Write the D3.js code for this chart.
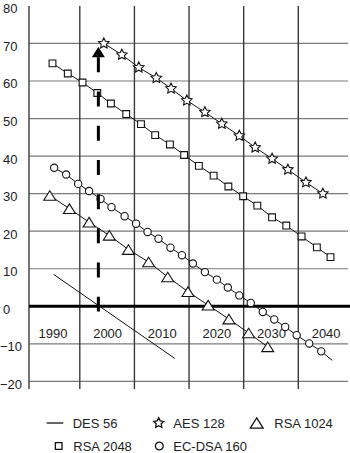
<!DOCTYPE html>
<html>
<head>
<meta charset="utf-8">
<script src="https://cdnjs.cloudflare.com/ajax/libs/d3/7.8.5/d3.min.js"></script>
<style>
  body { margin: 0; background: #fff; }
  svg text { font-family: "Liberation Sans", Arial, Helvetica, sans-serif; font-size: 13px; fill: #222; }
</style>
</head>
<body>
<div id="chart"></div>
<script>
// ticks
const yTicks = [-20, -10, 0, 10, 20, 30, 40, 50, 60, 70, 80];
const xLabels = [1990, 2000, 2010, 2020, 2030, 2040];
const gridYears = [1995, 2005, 2015, 2025, 2035];

// DES 56 (plain line)
const desYears = [1990.2, 2012.4];
const desVals = [8.5, -13.9];

// AES 128
const aesYears = [1999.4, 2002.7, 2005.8, 2009.0, 2011.7, 2014.6, 2017.9, 2021.0, 2024.2, 2027.1, 2030.2, 2033.1, 2036.4, 2039.5];
const aesVals = [70, 67, 63.6, 60.8, 58, 54.8, 51.7, 48.6, 45.4, 42.3, 39.3, 36.4, 33.0, 30.0];

// RSA 1024
const rsa1Years = [1989.5, 1993.1, 1996.7, 2000.4, 2003.9, 2007.6, 2011.1, 2014.8, 2018.5, 2022.3, 2025.9, 2029.4];
const rsa1Vals = [29.5, 26.0, 22.4, 18.9, 15.1, 11.8, 7.8, 3.9, 0.3, -3.4, -7.1, -10.8];

// RSA 2048
const rsa2Years = [1990.0, 1992.8, 1995.5, 1998.2, 2000.7, 2003.5, 2006.2, 2008.8, 2011.5, 2014.1, 2016.8, 2019.5, 2022.2, 2024.9, 2027.5, 2030.2, 2032.8, 2035.6, 2038.4, 2040.9];
const rsa2Vals = [64.7, 62.0, 59.6, 56.8, 54.0, 51.2, 48.5, 45.6, 43.1, 40.3, 37.4, 34.8, 31.9, 29.3, 26.8, 23.7, 21.5, 18.6, 15.7, 13.1];

// EC-DSA 160 (line runs a bit past the last marker)
const ecYears = [1990.3, 1992.5, 1994.7, 1996.7, 1998.8, 2000.8, 2003.2, 2005.3, 2007.4, 2009.4, 2011.6, 2013.7, 2015.7, 2017.9, 2020.1, 2022.1, 2024.2, 2026.3, 2028.5, 2030.6, 2032.6, 2034.7, 2037.0, 2039.2];
const ecVals = [36.9, 35.1, 32.6, 30.7, 28.6, 26.4, 24.0, 22.0, 19.8, 18.0, 15.6, 13.6, 11.4, 9.1, 7.1, 5.0, 2.9, 0.9, -1.5, -3.5, -5.5, -7.7, -9.9, -12.0];
const ecTail = [2041.2, -14.4];

// dashed arrow (DES broken, 1998)
const arrowYear = 1998.4;
const arrowFrom = -1.4;
const arrowBase = 66.3;
const arrowTip = 69.1;

const W = 350, H = 453;

const svg = d3.select("#chart").append("svg")
    .attr("width", W)
    .attr("height", H);

const x = d3.scaleLinear().domain([1985.7, 2044.1]).range([29, 348]);
const y = d3.scaleLinear().domain([-22, 80]).range([388.9, 5.9]);

// custom chunky star
const chunkyStar = {
  draw(ctx, size) {
    const R = Math.sqrt(size / 1.6), r = R * 0.5;
    for (let i = 0; i < 10; i++) {
      const a = -Math.PI / 2 + i * Math.PI / 5;
      const rr = i % 2 ? r : R;
      if (i == 0) ctx.moveTo(rr * Math.cos(a), rr * Math.sin(a));
      else ctx.lineTo(rr * Math.cos(a), rr * Math.sin(a));
    }
    ctx.closePath();
  }
};
// triangle centered in its box
const boxTriangle = {
  draw(ctx, size) {
    const w = Math.sqrt(size * 2.3), h = w * 0.8;
    ctx.moveTo(0, -h / 2);
    ctx.lineTo(w / 2, h / 2);
    ctx.lineTo(-w / 2, h / 2);
    ctx.closePath();
  }
};

// grid
svg.append("g").selectAll("line")
  .data(yTicks.filter(d => d != 0 && d != 80))
  .enter().append("line")
    .attr("x1", x.range()[0]).attr("x2", x.range()[1])
    .attr("y1", d => y(d)).attr("y2", d => y(d))
    .attr("stroke", "#7a7a7a").attr("stroke-width", 1.2);

svg.append("g").selectAll("line")
  .data(gridYears)
  .enter().append("line")
    .attr("x1", d => x(d)).attr("x2", d => x(d))
    .attr("y1", y(80)).attr("y2", y(-22))
    .attr("stroke", "#3a3a3a").attr("stroke-width", 1.4);

// y axis
const yAxis = svg.append("g")
    .attr("transform", `translate(${x.range()[0]},0)`)
    .call(d3.axisLeft(y).tickValues(yTicks).tickSize(0));
yAxis.select(".domain").attr("stroke", "#3a3a3a").attr("stroke-width", 1.4);
yAxis.selectAll("text")
    .attr("text-anchor", "start")
    .attr("x", d => d < 0 ? -29 : -26)
    .attr("y", 7).attr("dy", 0)
    .attr("fill", "#222");
yAxis.selectAll(".tick line").remove();
yAxis.attr("font-size", null).attr("font-family", null);
yAxis.select(".domain").attr("d", `M0,${y(80)}V${y(-22)}`);

// zero line
svg.append("line")
    .attr("x1", x.range()[0]).attr("x2", W)
    .attr("y1", y(0)).attr("y2", y(0))
    .attr("stroke", "#000").attr("stroke-width", 3);

// x labels
const xAxis = svg.append("g")
    .attr("transform", `translate(0,${y(0)})`)
    .call(d3.axisBottom(x).tickValues(xLabels).tickSize(0).tickFormat(d3.format("d")));
xAxis.select(".domain").remove();
xAxis.attr("font-size", null).attr("font-family", null);
xAxis.selectAll("text").attr("y", 22.5).attr("fill", "#222");

const line = d3.line().x(d => x(d[0])).y(d => y(d[1]));

function series(years, vals, sym, size, extra) {
  const pts = d3.zip(years, vals);
  const lp = extra ? pts.concat([extra]) : pts;
  svg.append("path")
      .attr("d", line(lp))
      .attr("fill", "none").attr("stroke", "#111").attr("stroke-width", 1);
  if (!sym) return;
  svg.append("g").selectAll("path")
    .data(pts)
    .enter().append("path")
      .attr("transform", d => `translate(${x(d[0])},${y(d[1])})`)
      .attr("d", d3.symbol().type(sym).size(size))
      .attr("fill", "#fff").attr("stroke", "#111").attr("stroke-width", 1.1);
}

series(desYears, desVals, null);
series(rsa2Years, rsa2Vals, d3.symbolSquare, 46);
series(ecYears, ecVals, d3.symbolCircle, 42, ecTail);
series(rsa1Years, rsa1Vals, boxTriangle, 62);
series(aesYears, aesVals, chunkyStar, 48);

// dashed arrow
svg.append("line")
    .attr("x1", x(arrowYear)).attr("x2", x(arrowYear))
    .attr("y1", y(arrowBase)).attr("y2", y(arrowFrom))
    .attr("stroke", "#000").attr("stroke-width", 3)
    .attr("stroke-dasharray", "15,19.2");
svg.append("path")
    .attr("d", `M${x(arrowYear)},${y(arrowTip)}L${x(arrowYear) + 6.5},${y(arrowBase)}L${x(arrowYear) - 6.5},${y(arrowBase)}Z`)
    .attr("fill", "#000");

// legend
const legendNames = ["DES 56", "AES 128", "RSA 1024", "RSA 2048", "EC-DSA 160"];
const legendSyms = [null, chunkyStar, boxTriangle, d3.symbolSquare, d3.symbolCircle];
const legendSizes = [0, 44, 72, 44, 48];
const legendPos = [[55, 423], [158.7, 423], [256.7, 423], [58.7, 446], [159.3, 446]];
const legendTextX = [72.7, 173.3, 274.3, 73.3, 173.3];

const lg = svg.append("g").selectAll("g")
  .data(legendNames)
  .enter().append("g");

lg.each(function(d, i) {
  const g = d3.select(this);
  const [cx, cy] = legendPos[i];
  if (!legendSyms[i]) {
    g.append("line")
      .attr("x1", cx - 8.3).attr("x2", cx + 8.3)
      .attr("y1", cy).attr("y2", cy)
      .attr("stroke", "#111").attr("stroke-width", 1.3);
  } else {
    g.append("path")
      .attr("transform", `translate(${cx},${cy})`)
      .attr("d", d3.symbol().type(legendSyms[i]).size(legendSizes[i]))
      .attr("fill", "#fff").attr("stroke", "#111").attr("stroke-width", 1.3);
  }
  g.append("text")
    .attr("x", legendTextX[i])
    .attr("y", cy + 4.7)
    .text(d);
});
</script>
</body>
</html>
